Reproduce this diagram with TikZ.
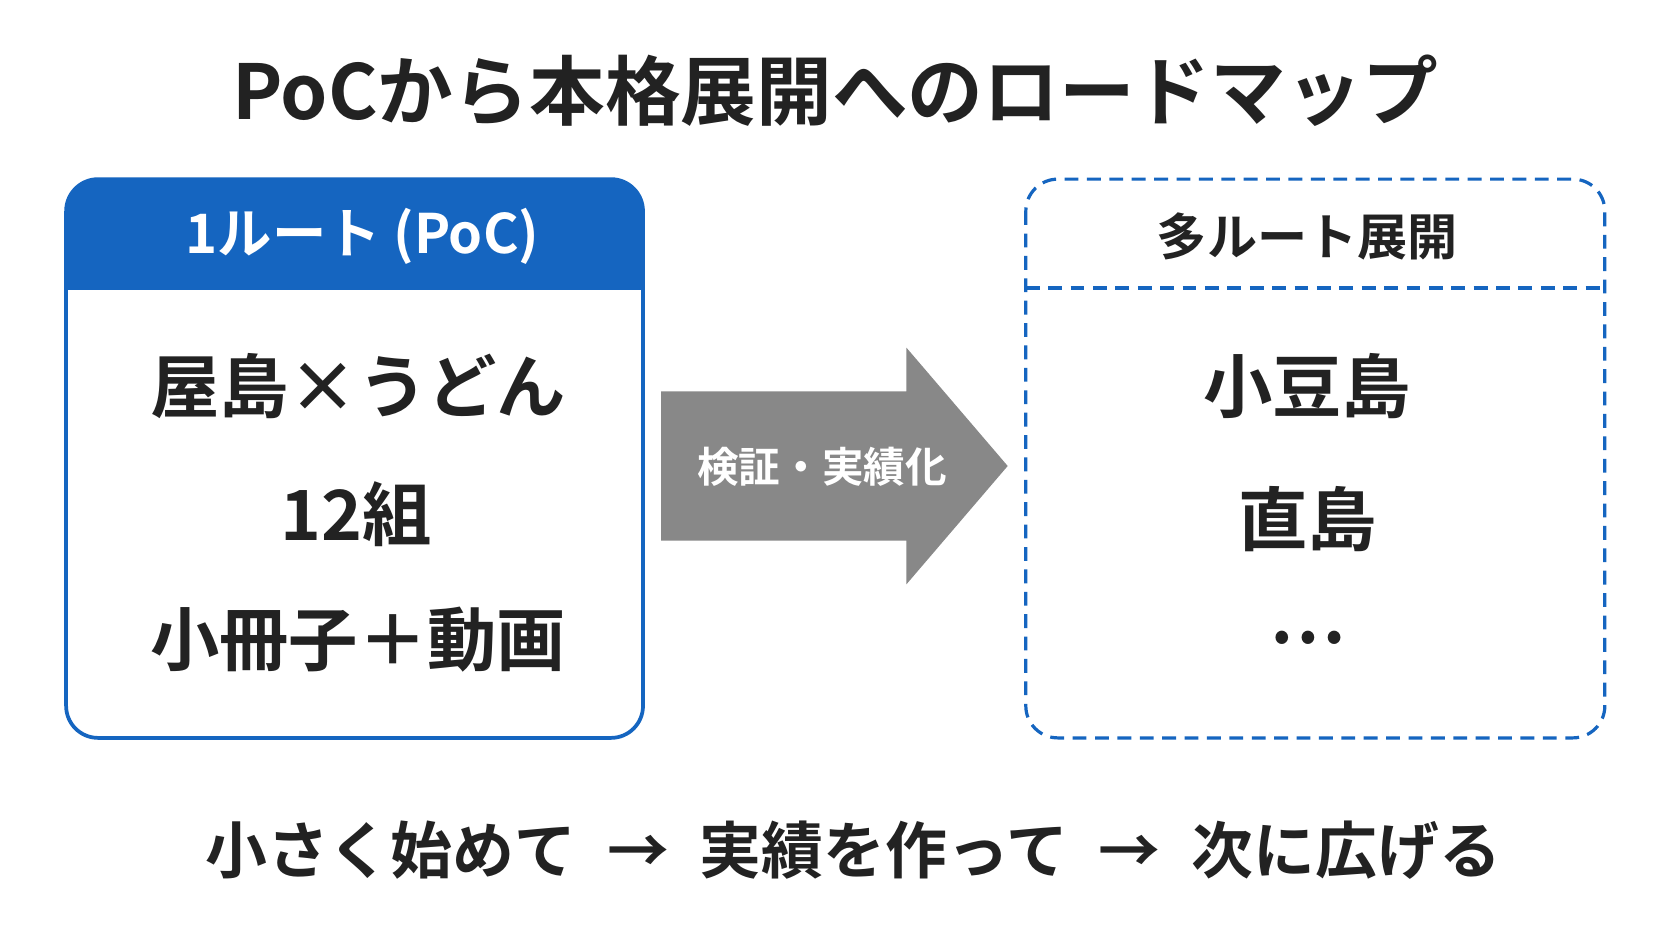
\documentclass[tikz,border=0pt]{standalone}
\usepackage{fontspec}
\newfontfamily\cjk{Noto Sans CJK JP}[BoldFont={Noto Sans CJK JP Bold}]
\definecolor{blu}{HTML}{1565C0}
\definecolor{ink}{HTML}{222222}
\definecolor{gry}{HTML}{888888}
\begin{document}
\begin{tikzpicture}[x=1pt,y=-1pt,
  t/.style={font=\cjk\bfseries\fontsize{#1}{#1}\selectfont,text=ink,inner sep=0pt},
  box/.style={line width=3.5pt,rounded corners=30pt},
  dsh/.style={blu,dash pattern=on 13pt off 8pt,line width=3pt}]
\useasboundingbox[fill=white] (0,0) rectangle (1568,882);
\node[t=71] (title) at (783,85) {PoCから本格展開へのロードマップ};
% left box
\fill[blu,rounded corners=30pt] (62,270) -- (62,168) -- (603,168) -- (603,270) -- cycle;
\fill[blu] (62,240) rectangle (603,272);
\draw[blu,box] (62,168) rectangle (603,692);
\node[t=51,text=white] (lh) at (340,222) {1ルート (PoC)};
\node[t=65] (l1) at (336,362) {屋島×うどん};
\node[t=65] (l2) at (334,482) {12組};
\node[t=65] (l3) at (336,600) {小冊子＋動画};
% arrow
\fill[gry] (620,367) -- (850,367) -- (850,326) -- (945,437) -- (850,548) -- (850,507) -- (620,507) -- cycle;
\node[t=39,text=white] (ar) at (771,438) {検証・実績化};
% right box
\draw[dsh,rounded corners=30pt] (962,168) rectangle (1505,692);
\draw[dsh] (962,270) -- (1505,270);
\node[t=47] (rh) at (1226,222) {多ルート展開};
\node[t=65] (r1) at (1226,362) {小豆島};
\node[t=65] (r2) at (1226,487) {直島};
\node[t=65] (r3) at (1226,598) {…};
\node[t=58] (bot) at (800,797) {小さく始めて\hspace{0.5em}→\hspace{0.5em}実績を作って\hspace{0.5em}→\hspace{0.5em}次に広げる};
\end{tikzpicture}
\end{document}
